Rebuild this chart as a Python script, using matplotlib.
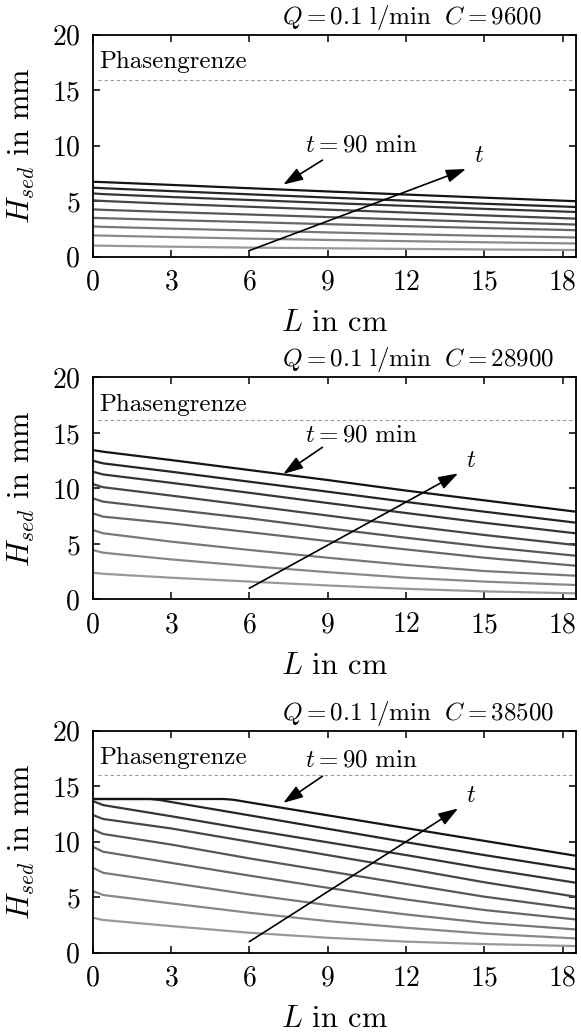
import numpy as np
import matplotlib
matplotlib.use("Agg")
import matplotlib.pyplot as plt

plt.rcParams.update({
    "font.family": "serif",
    "font.serif": ["cmr10"],
    "mathtext.fontset": "cm",
    "axes.formatter.use_mathtext": True,
    "axes.linewidth": 1.3,
    "xtick.direction": "in",
    "ytick.direction": "in",
    "xtick.top": True,
    "ytick.right": True,
    "xtick.major.size": 5,
    "ytick.major.size": 5,
    "xtick.major.width": 1.1,
    "ytick.major.width": 1.1,
    "xtick.major.pad": 9,
    "ytick.major.pad": 9,
    "xtick.labelsize": 20,
    "ytick.labelsize": 20,
})

# sediment height H_sed (mm) along the channel L (cm), t = 10 ... 90 min
L_CM = [0, 0.4, 3, 6, 9, 12, 15, 18.5]
TIMES = [10, 20, 30, 40, 50, 60, 70, 80, 90]

H_C9600 = [
    [1.00, 0.99, 0.90, 0.82, 0.76, 0.70, 0.65, 0.60],
    [1.92, 1.90, 1.77, 1.63, 1.51, 1.40, 1.30, 1.19],
    [2.72, 2.69, 2.53, 2.36, 2.19, 2.03, 1.88, 1.73],
    [3.50, 3.47, 3.30, 3.12, 2.93, 2.75, 2.58, 2.39],
    [4.27, 4.22, 4.02, 3.80, 3.57, 3.35, 3.13, 2.90],
    [5.08, 5.02, 4.76, 4.50, 4.24, 3.98, 3.72, 3.43],
    [5.70, 5.64, 5.38, 5.11, 4.84, 4.58, 4.31, 4.03],
    [6.22, 6.17, 5.91, 5.62, 5.33, 5.05, 4.77, 4.48],
    [6.75, 6.72, 6.47, 6.17, 5.88, 5.60, 5.32, 5.00],
]

H_C28900 = [
    [2.40, 2.30, 1.95, 1.60, 1.25, 0.95, 0.72, 0.54],
    [4.44, 4.20, 3.60, 3.00, 2.45, 1.95, 1.60, 1.29],
    [6.25, 5.95, 5.20, 4.45, 3.75, 3.10, 2.55, 2.13],
    [7.75, 7.45, 6.85, 6.05, 5.25, 4.50, 3.75, 3.03],
    [9.10, 8.80, 8.10, 7.30, 6.40, 5.55, 4.75, 3.93],
    [10.39, 10.10, 9.35, 8.45, 7.55, 6.65, 5.80, 4.89],
    [11.50, 11.25, 10.50, 9.60, 8.68, 7.78, 6.90, 5.95],
    [12.49, 12.25, 11.50, 10.60, 9.70, 8.78, 7.90, 6.91],
    [13.45, 13.30, 12.55, 11.65, 10.75, 9.80, 8.92, 7.90],
]

H_C38500 = [
    [3.15, 2.95, 2.40, 1.80, 1.35, 1.00, 0.78, 0.60],
    [5.56, 5.20, 4.45, 3.60, 2.85, 2.25, 1.72, 1.29],
    [7.66, 7.20, 6.30, 5.25, 4.30, 3.45, 2.70, 2.10],
    [9.55, 9.10, 8.10, 6.95, 5.85, 4.80, 3.85, 3.00],
    [11.12, 10.70, 9.75, 8.50, 7.35, 6.20, 5.05, 3.96],
    [12.41, 12.05, 11.20, 10.00, 8.80, 7.60, 6.35, 5.05],
    [13.67, 13.30, 12.30, 11.10, 9.95, 8.80, 7.60, 6.31],
]
# the two latest profiles reach the maximum height near the inlet
L_C38500_T80 = [0, 2.2, 2.6, 3, 6, 9, 12, 15, 18.5]
H_C38500_T80 = [13.85, 13.85, 13.75, 13.58, 12.38, 11.17, 9.96, 8.80, 7.51]
L_C38500_T90 = [0, 5.0, 5.4, 5.8, 9, 12, 15, 18.5]
H_C38500_T90 = [13.85, 13.85, 13.78, 13.62, 12.38, 11.23, 10.08, 8.74]

CONCENTRATIONS = [9600, 28900, 38500]
PHASE_BOUNDARY = [15.9, 16.2, 16.05]

grays = np.linspace(0.6, 0.08, len(TIMES))

fig = plt.figure(figsize=(5.81, 10.33), dpi=100)
left, width, height = 0.1596, 0.8311, 0.2149
bottoms = [0.7515, 0.4198, 0.0777]


def draw_panel(ax, profiles, conc, phase_y, label_y, label_arrow, t_arrow):
    for (xs, ys), g in zip(profiles, grays):
        ax.plot(xs, ys, color=str(g), lw=1.6, solid_capstyle="butt")

    ax.plot([0.2, 18.5], [phase_y, phase_y], color="#9a9a9a", lw=0.8,
            dashes=(3.0, 2.5))
    ax.text(0.25, 17.0, "Phasengrenze", fontsize=18, va="baseline")

    ax.text(8.15, label_y, r"$t = 90\ \mathrm{min}$", fontsize=18,
            va="baseline")
    ax.annotate("", xy=label_arrow[1], xytext=label_arrow[0],
                arrowprops=dict(arrowstyle="-|>,head_length=0.6,head_width=0.2",
                                color="black", lw=1.2, mutation_scale=20,
                                shrinkA=0, shrinkB=0))
    ax.annotate("", xy=t_arrow[1], xytext=t_arrow[0],
                arrowprops=dict(arrowstyle="-|>,head_length=0.6,head_width=0.2",
                                color="black", lw=1.2, mutation_scale=20,
                                shrinkA=0, shrinkB=0))
    ax.text(t_arrow[1][0] + 0.3, t_arrow[1][1] + 0.6, r"$t$", fontsize=18,
            va="baseline")

    ax.text(7.25, 1.05, r"$Q = 0.1\ \mathrm{l/min}\ \ C = %d$" % conc,
            fontsize=18, va="baseline", transform=ax.get_xaxis_transform())

    ax.set_xlim(0, 18.5)
    ax.set_ylim(0, 20)
    ax.set_xticks([0, 3, 6, 9, 12, 15, 18])
    ax.set_yticks([0, 5, 10, 15, 20])
    ax.set_xlabel(r"$L$ in cm", fontsize=22)
    ax.set_ylabel(r"$H_{sed}$ in mm", fontsize=22)
    ax.xaxis.set_label_coords(0.5, -0.24)
    ax.yaxis.set_label_coords(-0.115, 0.5)


panel_profiles = [
    [(L_CM, h) for h in H_C9600],
    [(L_CM, h) for h in H_C28900],
    [(L_CM, h) for h in H_C38500]
    + [(L_C38500_T80, H_C38500_T80), (L_C38500_T90, H_C38500_T90)],
]
label_ys = [9.45, 14.2, 16.75]
label_arrows = [((8.8, 8.7), (7.3, 6.5)),
                ((8.8, 13.7), (7.3, 11.3)),
                ((8.8, 15.9), (7.3, 13.5))]
t_arrows = [((6.0, 0.55), (14.3, 7.9)),
            ((6.0, 1.0), (14.0, 11.35)),
            ((6.0, 1.0), (14.0, 13.0))]

for i in range(3):
    ax = fig.add_axes([left, bottoms[i], width, height])
    draw_panel(ax, panel_profiles[i], CONCENTRATIONS[i], PHASE_BOUNDARY[i],
               label_ys[i], label_arrows[i], t_arrows[i])

fig.savefig("out.png", dpi=100)
